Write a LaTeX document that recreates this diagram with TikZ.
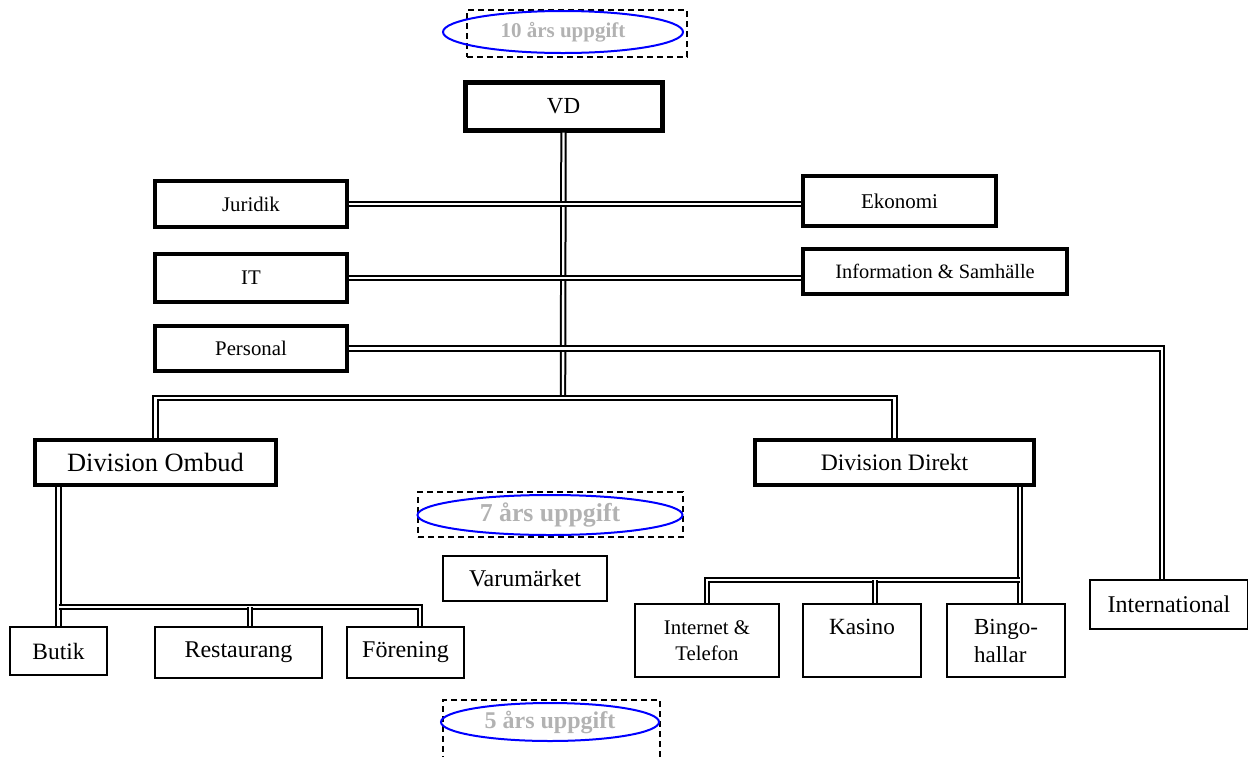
\documentclass[tikz,border=0pt]{standalone}
\usepackage{fontspec}
\setmainfont{Liberation Serif}
\usepackage{tikz}
\usetikzlibrary{shapes.geometric}

\tikzset{
  box/.style={draw, line width=0.75pt, inner sep=1pt, align=center},
  thickbox/.style={box, line width=1.6pt},
  dline/.style={draw, double, line width=1pt, double distance=1.2pt},
  frame/.style={draw, densely dashed, line width=0.6pt},
  oval/.style={ellipse, draw=blue, line width=1pt, text=black!30, inner sep=0pt},
}

\begin{document}
\begin{tikzpicture}[x=0.5pt,y=-0.5pt]
\useasboundingbox (0,0) rectangle (1248,756);
%
\node[frame, minimum width=110pt, minimum height=23.5pt] (f10) at (577,33.5) {};
\node[oval, minimum width=120pt, minimum height=21pt, font=\fontsize{10.5}{12}\selectfont\bfseries] (o10) at (563,32) {10 års uppgift};
%
\node[thickbox, line width=2.5pt, minimum width=98.5pt, minimum height=24pt, font=\fontsize{11.5}{13}\selectfont] (vd) at (563.5,106) {VD};
%
\node[thickbox, minimum width=96pt, minimum height=23pt, font=\fontsize{10.4}{12}\selectfont] (jur) at (251,204) {Juridik};
\node[thickbox, minimum width=96.5pt, minimum height=25pt, font=\fontsize{10.5}{12}\selectfont] (eko) at (899.5,201) {Ekonomi};
\node[thickbox, minimum width=96pt, minimum height=24pt, font=\fontsize{10.4}{12}\selectfont] (it) at (251,278) {IT};
\node[thickbox, minimum width=132pt, minimum height=22.5pt, font=\fontsize{10.2}{12}\selectfont] (info) at (935,271.5) {Information \& Samhälle};
\node[thickbox, minimum width=96pt, minimum height=22.5pt, font=\fontsize{10.4}{12}\selectfont] (pers) at (251,348.5) {Personal};
%
\node[thickbox, line width=1.8pt, minimum width=120.5pt, minimum height=22.5pt, font=\fontsize{13.2}{15}\selectfont] (ombud) at (155.5,462.5) {Division Ombud};
\node[thickbox, line width=1.8pt, minimum width=139.5pt, minimum height=22.5pt, font=\fontsize{11.8}{14}\selectfont] (direkt) at (894.5,462.5) {Division Direkt};
%
\node[frame, minimum width=132.5pt, minimum height=22.5pt] (f7) at (550.5,514.5) {};
\node[oval, minimum width=132.5pt, minimum height=20pt, font=\fontsize{12.9}{14}\selectfont\bfseries] (o7) at (550,515) {7 års uppgift};
\node[box, minimum width=82pt, minimum height=22.5pt, font=\fontsize{12}{14}\selectfont] (varu) at (525,578.5) {Varumärket};
%
\node[box, minimum width=48.5pt, minimum height=24pt, font=\fontsize{11.7}{14}\selectfont] (butik) at (58.5,651) {Butik};
\node[box, minimum width=83.5pt, minimum height=25.5pt, font=\fontsize{12}{14}\selectfont] (rest) at (238.5,652.5) {Restaurang};
\node[box, minimum width=58.5pt, minimum height=25.5pt, font=\fontsize{12}{14}\selectfont] (foren) at (405.5,652.5) {Förening};
%
\node[box, minimum width=72pt, minimum height=36.5pt, font=\fontsize{10.4}{13}\selectfont] (inet) at (707,640.5) {Internet \&\\Telefon};
\node[box, minimum width=59pt, minimum height=36.5pt, font=\fontsize{11.6}{14}\selectfont] (kasino) at (862,640.5) {Kasino\\[-4.5pt]\strut};
\node[box, minimum width=59pt, minimum height=36.5pt, align=left, font=\fontsize{11.5}{14}\selectfont] (bingo) at (1006,640.5) {Bingo-\\hallar};
\node[box, minimum width=79pt, minimum height=24.5pt, font=\fontsize{12}{14}\selectfont] (intl) at (1169,604.5) {International};
%
\node[frame, minimum width=108.5pt, minimum height=30pt] (f5) at (551.5,730) {};
\node[oval, minimum width=109pt, minimum height=19pt, font=\fontsize{12}{14}\selectfont\bfseries] (o5) at (550,722) {5 års uppgift};
%
\coordinate (bus) at (563,398);
\coordinate (idrop) at (1162,348.5);
\draw[dline] (vd.south) -- (bus);
\draw[dline] (jur.east) -- (jur.east -| eko.west);
\draw[dline] (it.east) -- (it.east -| info.west);
\draw[dline] (pers.east) -- (idrop) -- (idrop |- intl.north);
\draw[dline] (ombud.north) |- (bus) -| (direkt.north);
%
\coordinate (obus) at (58.5,607);
\coordinate (rdrop) at (250,607);
\coordinate (fdrop) at (420,607);
\draw[dline] (ombud.south -| butik.north) -- (butik.north);
\draw[dline] (obus) -- (fdrop) -- (fdrop |- foren.north);
\draw[dline] (rdrop) -- (rdrop |- rest.north);
%
\coordinate (dbus) at (1020,580);
\coordinate (kdrop) at (875,580);
\draw[dline] (direkt.south -| dbus) -- (dbus |- bingo.north);
\draw[dline] (dbus) -| (inet.north);
\draw[dline] (kdrop) -- (kdrop |- kasino.north);
\end{tikzpicture}
\end{document}
